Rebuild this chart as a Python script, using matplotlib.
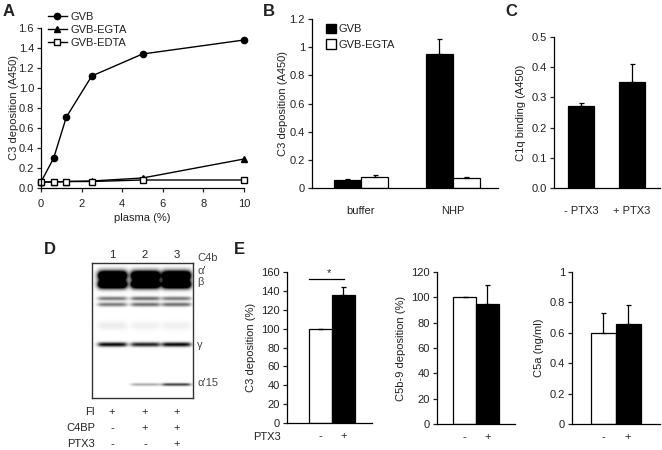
import numpy as np
import matplotlib
matplotlib.use("Agg")
import matplotlib.pyplot as plt
from matplotlib.patches import Patch

plt.rcParams['font.family'] = ['Liberation Sans', 'DejaVu Sans']
plt.rcParams['font.size'] = 8
plt.rcParams['text.color'] = '#222222'
plt.rcParams['axes.labelcolor'] = '#222222'
plt.rcParams['xtick.color'] = '#222222'
plt.rcParams['ytick.color'] = '#222222'

# ---- data ----
# A: C3 deposition vs plasma
plasma = [0, 0.625, 1.25, 2.5, 5, 10]
a_gvb = [0.06, 0.30, 0.71, 1.12, 1.34, 1.48]
a_egta = [0.06, 0.06, 0.065, 0.07, 0.10, 0.29]
a_edta = [0.06, 0.06, 0.065, 0.065, 0.08, 0.08]

# B: C3 deposition, buffer vs NHP
b_groups = ['buffer', 'NHP']
b_gvb = [0.06, 0.95]
b_gvb_err = [0.005, 0.11]
b_egta = [0.08, 0.07]
b_egta_err = [0.015, 0.005]

# C: C1q binding
c_labels = ['- PTX3', '+ PTX3']
c_vals = [0.27, 0.35]
c_err = [0.012, 0.06]

# D: western blot (band rows, lanes 1-3)
d_lanes = ['1', '2', '3']
d_band_y = [12, 21, 35, 41, 62, 81, 121]
d_band_sigma = [3.5, 3.0, 1.5, 1.5, 3.0, 1.6, 1.1]
d_band_int = [[1.8, 1.8, 1.8], [1.8, 1.8, 1.8], [0.5, 0.55, 0.5],
              [0.5, 0.55, 0.55], [0.08, 0.06, 0.06], [0.95, 0.85, 0.95],
              [0.0, 0.3, 0.7]]
d_band_names = ['C4b', "α'", 'β', 'γ', "α'15"]
d_rows = ['FI', 'C4BP', 'PTX3']
d_signs = [['+', '+', '+'], ['-', '+', '+'], ['-', '-', '+']]

# E: PTX3 effect
e_ticks = ['-', '+']
e_c3 = [100, 136]
e_c3_err = [0, 8]
e_c5b9 = [100, 95]
e_c5b9_err = [0, 15]
e_c5a = [0.60, 0.655]
e_c5a_err = [0.13, 0.13]

W, H = 662, 450
fig = plt.figure(figsize=(W / 100, H / 100), dpi=100)


def px_axes(l, t, r, b):
    return fig.add_axes([l / W, 1 - b / H, (r - l) / W, (b - t) / H])


def style(ax, xticks=True):
    for s in ['top', 'right']:
        ax.spines[s].set_visible(False)
    for s in ['left', 'bottom']:
        ax.spines[s].set_linewidth(0.9)
    ax.tick_params(direction='out', length=3, width=0.9, pad=2)
    if not xticks:
        ax.tick_params(axis='x', length=0, pad=13)


def bars_with_err(ax, x, vals, err, color, width):
    ax.bar(x, vals, width=width, color=color, edgecolor='black', linewidth=0.9)
    ax.errorbar(x, vals, yerr=[np.zeros(len(err)), err], fmt='none',
                ecolor='black', elinewidth=0.9, capsize=1.8, capthick=0.9)


def panel_label(x, y, s):
    fig.text(x / W, 1 - y / H, s, fontsize=12, fontweight='bold',
             ha='left', va='center')


# ---- A ----
ax = px_axes(41, 28, 244, 188)
ax.plot(plasma, a_gvb, '-o', color='black', lw=1, ms=4.5, label='GVB', clip_on=False)
ax.plot(plasma, a_egta, '-^', color='black', lw=1, ms=4.5, label='GVB-EGTA', clip_on=False)
ax.plot(plasma, a_edta, '-s', color='black', mfc='white', lw=1, ms=5, label='GVB-EDTA', clip_on=False)
ax.set_xlim(0, 10)
ax.set_ylim(0, 1.6)
ax.set_xticks([0, 2, 4, 6, 8, 10])
ax.set_yticks(np.arange(0, 1.61, 0.2))
ax.set_yticklabels([f'{v:.1f}' for v in np.arange(0, 1.61, 0.2)])
ax.set_xlabel('plasma (%)', labelpad=3)
ax.set_ylabel('C3 deposition (A450)')
ax.yaxis.set_label_coords(-0.11, 0.5)
style(ax)
ax.tick_params(axis='x', pad=5)
ax.legend(loc='upper left', bbox_to_anchor=(48 / W, 1 - 12 / H), bbox_transform=fig.transFigure,
          frameon=False, handlelength=1.7, handletextpad=0.3, labelspacing=0.25,
          borderaxespad=0, borderpad=0)
panel_label(3, 12, 'A')

# ---- B ----
ax = px_axes(312, 19, 498, 188)
bx = np.arange(1, len(b_groups) + 1)
bars_with_err(ax, bx - 0.147, b_gvb, b_gvb_err, 'black', 0.293)
bars_with_err(ax, bx + 0.147, b_egta, b_egta_err, 'white', 0.293)
ax.set_xlim(0.467, 2.49)
ax.set_ylim(0, 1.2)
ax.set_xticks(bx)
ax.set_xticklabels(b_groups)
ax.set_yticks([0, 0.2, 0.4, 0.6, 0.8, 1, 1.2])
ax.set_yticklabels(['0', '0.2', '0.4', '0.6', '0.8', '1', '1.2'])
ax.set_ylabel('C3 deposition (A450)')
ax.yaxis.set_label_coords(-0.13, 0.5)
style(ax, xticks=False)
ax.legend(handles=[Patch(facecolor='black', edgecolor='black', label='GVB'),
                   Patch(facecolor='white', edgecolor='black', label='GVB-EGTA')],
          loc='upper left', bbox_to_anchor=(326 / W, 1 - 24 / H), bbox_transform=fig.transFigure,
          frameon=False, handlelength=0.9, handleheight=0.9, handletextpad=0.2,
          labelspacing=0.45, borderaxespad=0, borderpad=0)
panel_label(263, 12, 'B')

# ---- C ----
ax = px_axes(554, 37, 660, 188)
cx = np.arange(1, len(c_vals) + 1)
bars_with_err(ax, cx, c_vals, c_err, 'black', 0.52)
ax.set_xlim(0.465, 2.56)
ax.set_ylim(0, 0.5)
ax.set_xticks(cx)
ax.set_xticklabels(c_labels)
ax.set_yticks(np.arange(0, 0.51, 0.1))
ax.set_yticklabels([f'{v:.1f}' for v in np.arange(0, 0.51, 0.1)])
ax.set_ylabel('C1q binding (A450)', labelpad=4)
style(ax, xticks=False)
panel_label(505, 12, 'C')

# ---- D (blot) ----
ax = px_axes(92, 263, 193, 398)
nrow, ncol = 135, 101
lane_x = [20, 53, 84]
yy, xx = np.mgrid[0:nrow, 0:ncol]
img = np.zeros((nrow, ncol))
for yc, sg, ints in zip(d_band_y, d_band_sigma, d_band_int):
    for lx, it in zip(lane_x, ints):
        lane = 1 / (1 + np.exp((np.abs(xx - lx) - 14) / 1.5))
        img += it * np.exp(-(yy - yc) ** 2 / (2 * sg ** 2)) * lane
img = np.clip(img, 0, 1)
ax.imshow(1 - img, cmap='gray', vmin=0, vmax=1, aspect='auto',
          extent=(0, ncol, nrow, 0), interpolation='bilinear')
ax.set_xticks([])
ax.set_yticks([])
for s in ax.spines.values():
    s.set_linewidth(1.0)
    s.set_color('#333333')
lane_px = [112, 145, 177]
for lx, lab in zip(lane_px, d_lanes):
    fig.text(lx / W, 1 - 255 / H, lab, ha='center', va='center')
band_label_y = [258, 271, 282, 345, 383]
for by, lab in zip(band_label_y, d_band_names):
    fig.text(197 / W, 1 - by / H, lab, ha='left', va='center', color='#444444')
row_y = [412, 428, 444]
for ry, name, signs in zip(row_y, d_rows, d_signs):
    fig.text(95 / W, 1 - ry / H, name, ha='right', va='center')
    for lx, sg in zip(lane_px, signs):
        fig.text(lx / W, 1 - ry / H, sg, ha='center', va='center')
panel_label(44, 250, 'D')

# ---- E ----
ex = np.arange(1, 3)


def e_panel(box, vals, err, ylim, yticks, ylabel, xlim, width):
    ax = px_axes(*box)
    bars_with_err(ax, ex, vals, err, ['white', 'black'], width)
    ax.set_xlim(*xlim)
    ax.set_ylim(*ylim)
    ax.set_yticks(yticks[0])
    ax.set_yticklabels(yticks[1])
    ax.set_xticks(ex)
    ax.set_xticklabels(e_ticks)
    ax.set_ylabel(ylabel, labelpad=4)
    style(ax, xticks=False)
    ax.tick_params(axis='x', pad=6)
    return ax


ax = e_panel((287, 272, 372, 423), e_c3, e_c3_err, (0, 160),
             (np.arange(0, 161, 20), [str(v) for v in range(0, 161, 20)]),
             'C3 deposition (%)', (-0.457, 3.24), 1.0)
ax.plot([0.5, 2.02], [153, 153], color='black', lw=0.9, clip_on=False)
ax.text(1.35, 154, '*', ha='center', va='bottom', fontsize=8)
fig.text(281 / W, 1 - 437 / H, 'PTX3', ha='right', va='center')
panel_label(234, 250, 'E')

e_panel((437, 272, 515, 424), e_c5b9, e_c5b9_err, (0, 120),
        (np.arange(0, 121, 20), [str(v) for v in range(0, 121, 20)]),
        'C5b-9 deposition (%)', (-0.196, 3.196), 1.0)

e_panel((572, 272, 660, 424), e_c5a, e_c5a_err, (0, 1),
        ([0, 0.2, 0.4, 0.6, 0.8, 1], ['0', '0.2', '0.4', '0.6', '0.8', '1']),
        'C5a (ng/ml)', (-0.24, 3.28), 1.0)

fig.savefig('out.png', dpi=100)
